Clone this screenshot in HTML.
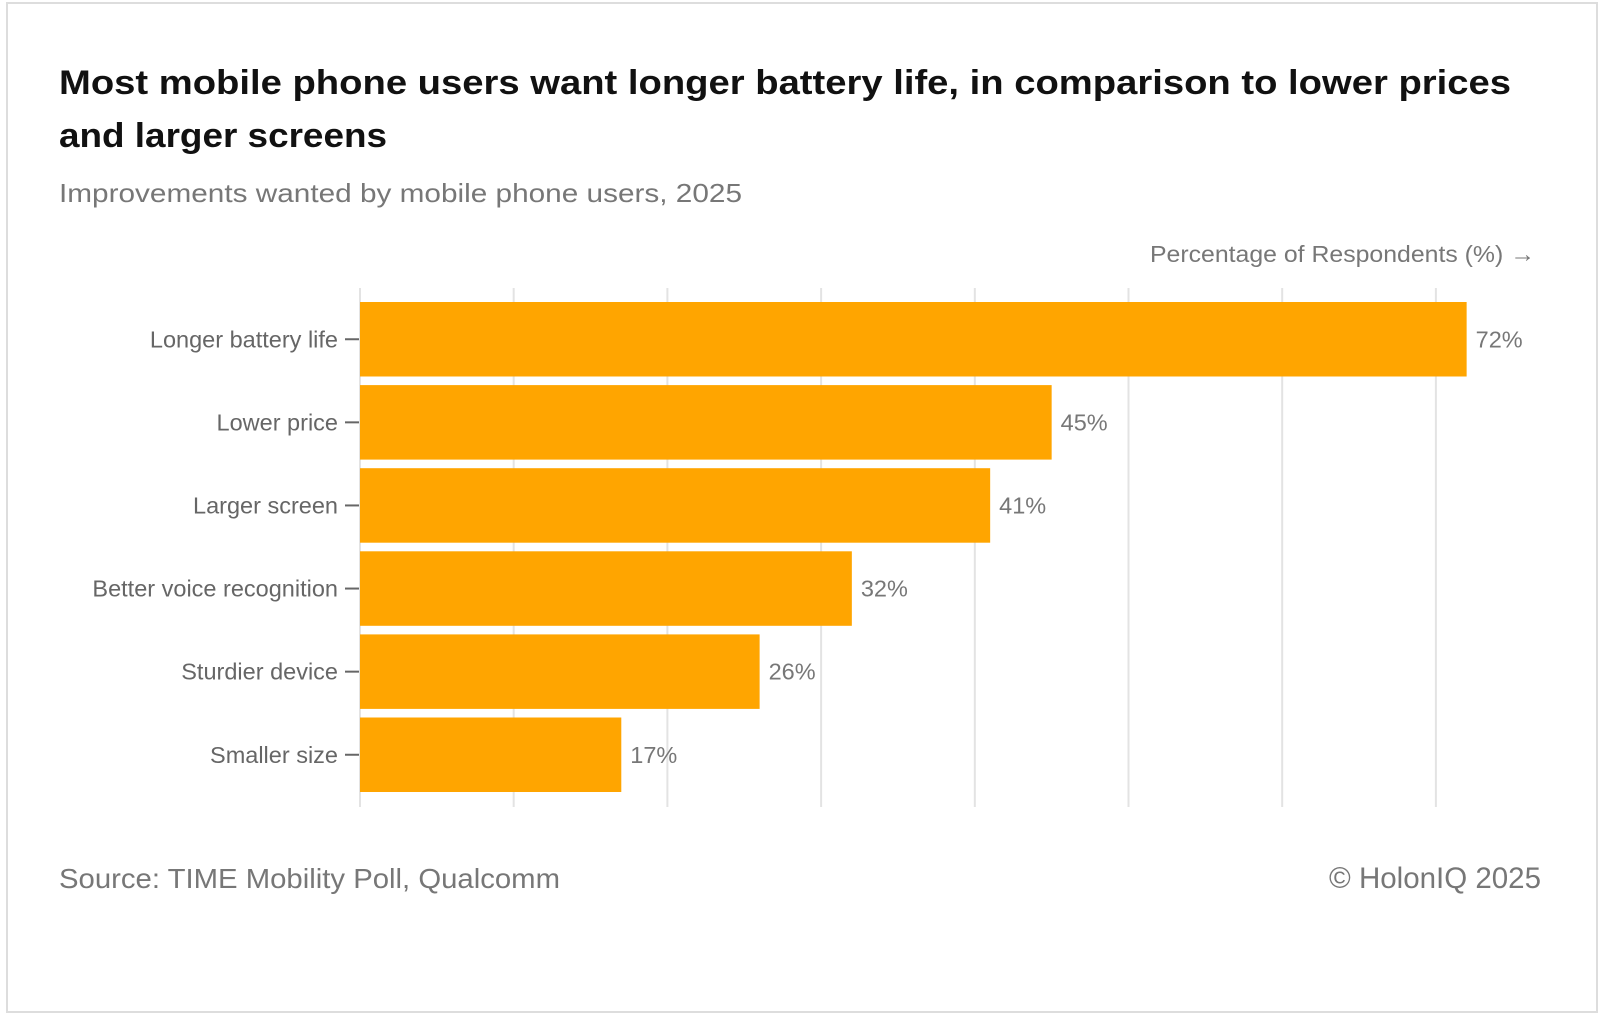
<!DOCTYPE html>
<html><head><meta charset="utf-8"><style>
html,body{margin:0;padding:0;background:#fff}
svg{display:block;font-family:"Liberation Sans",sans-serif}
</style></head><body>
<svg id="chart" width="1600" height="1016" viewBox="0 0 1600 1016">
<rect x="7" y="3" width="1590" height="1009" fill="#fff" stroke="#ddd" stroke-width="2"/>
<text x="59" y="94" font-size="34" font-weight="bold" fill="#111" textLength="1452" lengthAdjust="spacingAndGlyphs">Most mobile phone users want longer battery life, in comparison to lower prices</text>
<text x="59" y="147" font-size="34" font-weight="bold" fill="#111" textLength="328" lengthAdjust="spacingAndGlyphs">and larger screens</text>
<text x="59" y="202" font-size="26" fill="#777" textLength="683" lengthAdjust="spacingAndGlyphs">Improvements wanted by mobile phone users, 2025</text>
<text x="1535" y="262" font-size="23.5" fill="#777" text-anchor="end" textLength="385" lengthAdjust="spacingAndGlyphs">Percentage of Respondents (%) →</text>
<g id="grid"></g>
<g id="bars"></g>
<text x="59" y="888" font-size="28" fill="#777" textLength="501" lengthAdjust="spacingAndGlyphs">Source: TIME Mobility Poll, Qualcomm</text>
<text x="1541" y="888" font-size="29.5" fill="#777" text-anchor="end">© HolonIQ 2025</text>
</svg>
<script>
const categories=["Longer battery life","Lower price","Larger screen","Better voice recognition","Sturdier device","Smaller size"];
const values=[72,45,41,32,26,17];
const gridTicks=[0,10,20,30,40,50,60,70];
const NS="http://www.w3.org/2000/svg";
const x0=360,pxPer=15.37,top0=302,step=83.1,barH=74.5;
const xs=v=>x0+v*pxPer;
const yb=i=>top0+i*step;
function mk(t,a,p){const e=document.createElementNS(NS,t);for(const k in a)e.setAttribute(k,a[k]);p.appendChild(e);return e;}
const g=document.getElementById('grid'),b=document.getElementById('bars');
gridTicks.forEach(t=>{
 const l=mk('line',{x1:xs(t),x2:xs(t),y1:288,y2:807,stroke:'#e3e3e3','stroke-width':2},g);
 
 
});
categories.forEach((c,i)=>{
 const y=yb(i);
 const r=mk('rect',{x:x0,y:y,width:xs(values[i])-x0,height:barH,fill:'#FFA500'},b);
 
 
 const tk=mk('line',{x1:345,x2:359,y1:y+barH/2,y2:y+barH/2,stroke:'#666','stroke-width':2},b);
 
 
 const lb=mk('text',{x:338,y:y+barH/2+8,'font-size':23.5,fill:'#666','text-anchor':'end'},b);
 lb.textContent=c;
 
 
 const vl=mk('text',{x:xs(values[i])+9,y:y+barH/2+8,'font-size':23.5,fill:'#777'},b);
 vl.textContent=values[i]+'%';
 
 
});
</script>
</body></html>
